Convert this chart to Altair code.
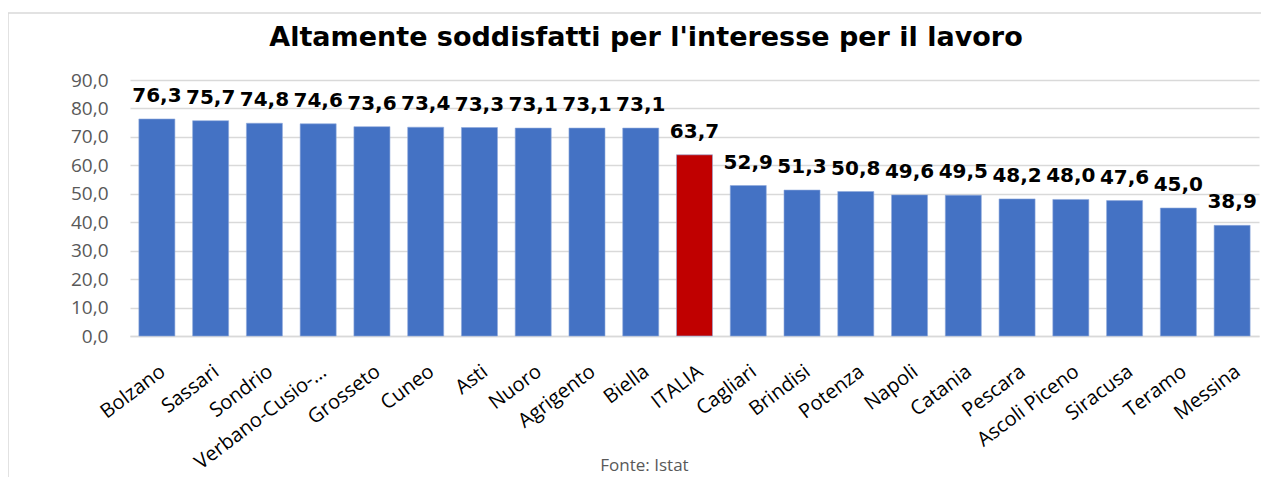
import altair as alt
import pandas as pd

provinces = ["Bolzano", "Sassari", "Sondrio", "Verbano-Cusio-…", "Grosseto", "Cuneo", "Asti",
             "Nuoro", "Agrigento", "Biella", "ITALIA", "Cagliari", "Brindisi", "Potenza",
             "Napoli", "Catania", "Pescara", "Ascoli Piceno", "Siracusa", "Teramo", "Messina"]
values = [76.3, 75.7, 74.8, 74.6, 73.6, 73.4, 73.3, 73.1, 73.1, 73.1, 63.7, 52.9, 51.3,
          50.8, 49.6, 49.5, 48.2, 48.0, 47.6, 45.0, 38.9]
y_ticks = [0, 10, 20, 30, 40, 50, 60, 70, 80, 90]

title_text = "Altamente soddisfatti per l'interesse per il lavoro"
source_text = "Fonte: Istat"

df = pd.DataFrame({"provincia": provinces, "valore": values})

base = alt.Chart(df)

x_enc = alt.X(
    "provincia:N", sort=provinces,
    scale=alt.Scale(paddingInner=0.33, paddingOuter=0.165),
    axis=alt.Axis(
        title=source_text, labelAngle=-37, labelFont="Open Sans", labelFontSize=20,
        labelColor="#000000", labelPadding=25, ticks=False, domainColor="#d9d9d9",
        domainWidth=1.5, titleFont="Open Sans", titleFontSize=17, titleFontWeight="normal",
        titleColor="#595959", titleX=514, titleY=134, titleBaseline="alphabetic",
        titleAlign="center", labelOverlap=False,
    ),
)

y_enc = alt.Y(
    "valore:Q", scale=alt.Scale(domain=[0, 90], nice=False),
    axis=alt.Axis(
        title=None, values=y_ticks, domain=False, ticks=False, labelFont="Open Sans",
        labelFontSize=19, labelColor="#595959", labelPadding=22, labelOverlap=False,
        gridColor="#d9d9d9", gridWidth=1.3,
        labelExpr="replace(format(datum.value, '.1f'), '.', ',')",
    ),
)

bars = base.mark_bar(stroke="#8faadc", strokeWidth=0.6).encode(
    x=x_enc,
    y=y_enc,
    color=alt.condition(alt.datum.provincia == "ITALIA", alt.value("#c00000"), alt.value("#4472c4")),
)

labels = base.mark_text(
    font="DejaVu Sans", fontWeight="bold", fontSize=20, color="#000000",
    baseline="alphabetic", dy=-17,
).encode(
    x=x_enc,
    y=y_enc,
    text=alt.Text("label:N"),
).transform_calculate(label="replace(format(datum.valore, '.1f'), '.', ',')")

border = alt.Chart(alt.Data(values=[{}])).mark_rect(
    fill=None, stroke="#d9d9d9", strokeWidth=1.5
).encode(
    x=alt.value(-122), x2=alt.value(1300), y=alt.value(-67), y2=alt.value(600)
)

title = alt.Chart(alt.Data(values=[{}])).mark_text(
    font="DejaVu Sans", fontSize=27, fontWeight="bold", color="#000000",
    align="center", baseline="alphabetic",
).encode(
    x=alt.value(516), y=alt.value(-34), text=alt.value(title_text)
)

chart = alt.layer(border, bars, labels, title).properties(
    width=1129, height=256,
    autosize=alt.AutoSizeParams(type="none"),
    padding={"left": 122, "top": 72, "right": 2, "bottom": 141},
).configure(background="white", view=alt.ViewConfig(stroke=None))

chart.save("out.html", embed_options={"renderer": "svg", "actions": False})
